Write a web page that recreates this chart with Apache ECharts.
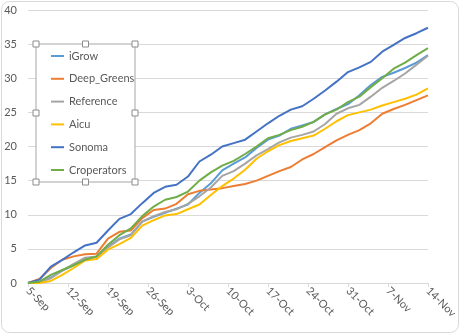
<!DOCTYPE html>
<html>
<head>
<meta charset="utf-8">
<script src="https://cdn.jsdelivr.net/npm/echarts@6/dist/echarts.min.js"></script>
<style>
html,body{margin:0;padding:0;background:#fff;}
#chart{width:460px;height:334px;}
</style>
</head>
<body>
<div id="chart"></div>
<script>
// Day offsets from 5-Sep
var days = [0,2,4,6,8,10,12,14,16,18,20,22,24,26,28,30,32,34,36,38,40,42,44,46,48,50,52,54,56,58,60,62,64,66,68,70];
var tickLabels = ['5-Sep','12-Sep','19-Sep','26-Sep','3-Oct','10-Oct','17-Oct','24-Oct','31-Oct','7-Nov','14-Nov'];
var seriesNames = ['iGrow','Deep_Greens','Reference','Aicu','Sonoma','Croperators'];

var iGrow       = [0,0.1,0.8,1.8,2.6,3.6,3.8,5.3,6.5,7.1,9.0,9.7,10.3,10.9,11.5,13.2,14.6,16.5,17.5,18.4,19.8,21.0,21.6,22.6,23.1,23.6,24.7,25.5,26.2,27.5,29.0,30.2,30.8,31.5,32.3,33.4];
var deepGreens  = [0,0.6,2.2,3.4,3.9,4.2,4.3,6.5,7.5,7.7,9.5,10.7,10.9,11.6,13.0,13.5,13.7,13.9,14.2,14.5,15.0,15.7,16.4,17.0,18.1,18.9,19.9,20.9,21.7,22.4,23.4,24.8,25.5,26.1,26.8,27.5];
var reference   = [0,0.1,0.7,1.8,2.8,3.7,3.9,5.2,6.4,7.0,9.0,9.8,10.4,10.8,11.6,12.7,14.0,15.7,16.4,17.5,18.7,19.6,20.6,21.3,21.7,22.2,23.3,24.8,25.6,26.1,27.3,28.6,29.6,30.7,32.0,33.3];
var aicu        = [0,0,0.3,1.2,2.2,3.3,3.5,4.9,5.7,6.6,8.4,9.2,9.9,10.1,10.8,11.5,12.9,14.2,15.3,16.6,18.2,19.3,20.2,20.8,21.2,21.6,22.6,23.7,24.6,25.0,25.4,26.0,26.5,27.0,27.6,28.5];
var sonoma      = [0,0.5,2.4,3.4,4.5,5.5,5.9,7.7,9.4,10.1,11.7,13.2,14.1,14.4,15.6,17.8,18.8,20.0,20.5,21.0,22.2,23.4,24.5,25.4,25.9,27.0,28.2,29.5,30.9,31.6,32.4,33.9,34.9,35.9,36.6,37.4];
var croperators = [0,0.2,1.2,1.9,2.6,3.4,3.9,5.6,7.0,8.0,9.8,11.2,12.2,12.6,13.4,15.0,16.2,17.2,17.9,18.9,20.0,21.2,21.7,22.4,22.9,23.6,24.7,25.4,26.5,27.3,28.7,30.0,31.4,32.3,33.4,34.4];

var values = [iGrow, deepGreens, reference, aicu, sonoma, croperators];
var colors = ['#5B9BD5','#ED7D31','#A5A5A5','#FFC000','#4472C4','#70AD47'];

function pairs(v){ return days.map(function(d,i){ return [d, v[i]]; }); }

var font = 'Lato, "Liberation Sans", sans-serif';
var chart = echarts.init(document.getElementById('chart'), null, {renderer:'canvas'});

var handles = [[36,44],[85.5,44],[135,44],[36,113],[135,113],[36,182],[85.5,182],[135,182]];
var graphics = [
  {type:'rect', shape:{x:1.5,y:1.5,width:457,height:331,r:8}, style:{fill:null, stroke:'#d9d9d9', lineWidth:1}, z:-1},
  {type:'rect', shape:{x:36,y:44,width:99,height:138}, style:{fill:'#fff', stroke:'#a6a6a6', lineWidth:1}, z:5}
];
handles.forEach(function(h){
  graphics.push({type:'rect', shape:{x:h[0]-3,y:h[1]-3,width:6,height:6}, style:{fill:'#fff', stroke:'#8c8c8c', lineWidth:1}, z:6});
});

chart.setOption({
  animation:false,
  backgroundColor:'#fff',
  color: colors,
  grid:{left:28, right:31, top:10, bottom:51, containLabel:false},
  graphic: graphics,
  legend:{
    orient:'vertical', left:46, top:44, itemGap:8.8, itemWidth:13, itemHeight:2, icon:'rect',
    z:10,
    textStyle:{fontFamily:font, fontSize:11, color:'#595959', lineHeight:14},
    data: seriesNames
  },
  xAxis:{
    type:'value', min:0, max:70, interval:7,
    axisLine:{lineStyle:{color:'#d9d9d9'}},
    axisTick:{show:true, length:4, lineStyle:{color:'#d9d9d9'}},
    splitLine:{show:false},
    axisLabel:{
      rotate:-45, margin:6, fontFamily:font, fontSize:11, color:'#595959',
      formatter:function(v){ return tickLabels[Math.round(v/7)] || ''; }
    }
  },
  yAxis:{
    type:'value', min:0, max:40, interval:5,
    axisLine:{show:false}, axisTick:{show:false},
    splitLine:{lineStyle:{color:'#d9d9d9'}},
    axisLabel:{margin:11, fontFamily:font, fontSize:11, color:'#595959'}
  },
  series: seriesNames.map(function(n,i){
    return {name:n, type:'line', data:pairs(values[i]), showSymbol:false, symbol:'none',
      lineStyle:{width:2, color:colors[i]}, itemStyle:{color:colors[i]}, z:2};
  })
});
</script>
</body>
</html>
